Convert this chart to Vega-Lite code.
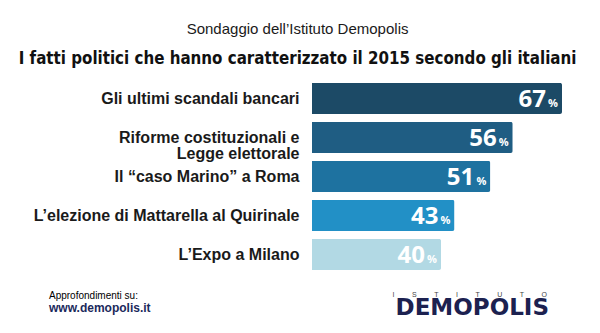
{
  "$schema": "https://vega.github.io/schema/vega-lite/v6.json",
  "background": "white",
  "autosize": {"type": "pad"},
  "padding": {"left": 18, "top": 22, "right": 0, "bottom": 0},
  "config": {"view": {"stroke": null}, "font": "Liberation Sans"},
  "title": {
    "text": "Sondaggio dell’Istituto Demopolis",
    "subtitle": "I fatti politici che hanno caratterizzato il 2015 secondo gli italiani",
    "anchor": "middle",
    "font": "Liberation Sans",
    "fontSize": 15,
    "fontWeight": "normal",
    "color": "#1a1a1a",
    "subtitleFont": "Liberation Sans Narrow, DejaVu Sans Condensed",
    "subtitleFontSize": 16.8,
    "subtitleFontWeight": "bold",
    "subtitleColor": "#111111",
    "subtitlePadding": 14,
    "offset": 11
  },
  "datasets": {
    "sondaggio": [
      {"evento": "Gli ultimi scandali bancari", "pct": 67},
      {"evento": "Riforme costituzionali e Legge elettorale", "pct": 56},
      {"evento": "Il “caso Marino” a Roma", "pct": 51},
      {"evento": "L’elezione di Mattarella al Quirinale", "pct": 43},
      {"evento": "L’Expo a Milano", "pct": 40}
    ],
    "footer": [
      {"item": "intro", "text": "Approfondimenti su:"},
      {"item": "url", "text": "www.demopolis.it"},
      {"item": "kicker", "text": "I\u00a0\u00a0\u00a0\u00a0\u00a0\u00a0\u00a0\u00a0\u00a0S\u00a0\u00a0\u00a0\u00a0\u00a0\u00a0\u00a0\u00a0\u00a0T\u00a0\u00a0\u00a0\u00a0\u00a0\u00a0\u00a0\u00a0\u00a0I\u00a0\u00a0\u00a0\u00a0\u00a0\u00a0\u00a0\u00a0\u00a0T\u00a0\u00a0\u00a0\u00a0\u00a0\u00a0\u00a0\u00a0\u00a0U\u00a0\u00a0\u00a0\u00a0\u00a0\u00a0\u00a0\u00a0\u00a0T\u00a0\u00a0\u00a0\u00a0\u00a0\u00a0\u00a0\u00a0\u00a0O"},
      {"item": "logo", "text": "DEMOPOLIS"}
    ]
  },
  "spacing": 17,
  "vconcat": [
    {
      "width": 250,
      "height": 195,
      "data": {"name": "sondaggio"},
      "encoding": {
        "y": {
          "field": "evento",
          "type": "nominal",
          "sort": null,
          "scale": {"paddingInner": 0.2, "paddingOuter": 0.1},
          "axis": {
            "title": null,
            "domain": false,
            "ticks": false,
            "labelPadding": 13,
            "labelFont": "Liberation Sans",
            "labelFontSize": 16,
            "labelFontWeight": "bold",
            "labelColor": "#1a1a1a",
            "labelLimit": 400,
            "labelLineHeight": 16,
            "labelExpr": "datum.value == 'Riforme costituzionali e Legge elettorale' ? ['Riforme costituzionali e', 'Legge elettorale'] : datum.label"
          }
        },
        "x": {
          "field": "pct",
          "type": "quantitative",
          "scale": {"domain": [11.2, 67], "zero": false, "nice": false, "clamp": true},
          "axis": null
        }
      },
      "layer": [
        {
          "mark": {"type": "bar", "cornerRadiusEnd": 2},
          "encoding": {
            "color": {
              "field": "evento",
              "type": "nominal",
              "scale": {
                "domain": ["Gli ultimi scandali bancari", "Riforme costituzionali e Legge elettorale", "Il “caso Marino” a Roma", "L’elezione di Mattarella al Quirinale", "L’Expo a Milano"],
                "range": ["#1c4a66", "#1f5d83", "#1e72a0", "#2290c6", "#b2d9e4"]
              },
              "legend": null
            }
          }
        },
        {
          "mark": {"type": "text", "align": "right", "baseline": "alphabetic", "dx": -16, "dy": 8, "font": "Open Sans", "fontSize": 24, "fontWeight": "bold", "color": "white"},
          "encoding": {"text": {"field": "pct", "type": "quantitative"}}
        },
        {
          "mark": {"type": "text", "align": "right", "baseline": "alphabetic", "dx": -4, "dy": 8, "font": "Open Sans", "fontSize": 11, "fontWeight": "bold", "color": "white", "text": "%"},
          "encoding": {}
        }
      ]
    },
    {
      "width": 237,
      "height": 24,
      "data": {"name": "footer"},
      "layer": [
        {
          "transform": [{"filter": "datum.item == 'intro'"}],
          "mark": {"type": "text", "align": "left", "baseline": "top", "dx": -263, "fontSize": 10, "color": "#000000"},
          "encoding": {"x": {"value": 0}, "y": {"value": 0}, "text": {"field": "text"}}
        },
        {
          "transform": [{"filter": "datum.item == 'url'"}],
          "mark": {"type": "text", "align": "left", "baseline": "bottom", "dx": -263, "fontSize": 12, "fontWeight": "bold", "color": "#1b2a5c"},
          "encoding": {"x": {"value": 0}, "y": {"value": "height"}, "text": {"field": "text"}}
        },
        {
          "transform": [{"filter": "datum.item == 'kicker'"}],
          "mark": {"type": "text", "align": "right", "baseline": "top", "dx": -2, "fontSize": 7, "color": "#444444"},
          "encoding": {"x": {"value": "width"}, "y": {"value": 0}, "text": {"field": "text"}}
        },
        {
          "transform": [{"filter": "datum.item == 'logo'"}],
          "mark": {"type": "text", "align": "right", "baseline": "alphabetic", "font": "DejaVu Sans", "fontSize": 23, "fontWeight": "bold", "color": "#1c2150"},
          "encoding": {"x": {"value": "width"}, "y": {"value": "height"}, "text": {"field": "text"}}
        }
      ]
    }
  ]
}
